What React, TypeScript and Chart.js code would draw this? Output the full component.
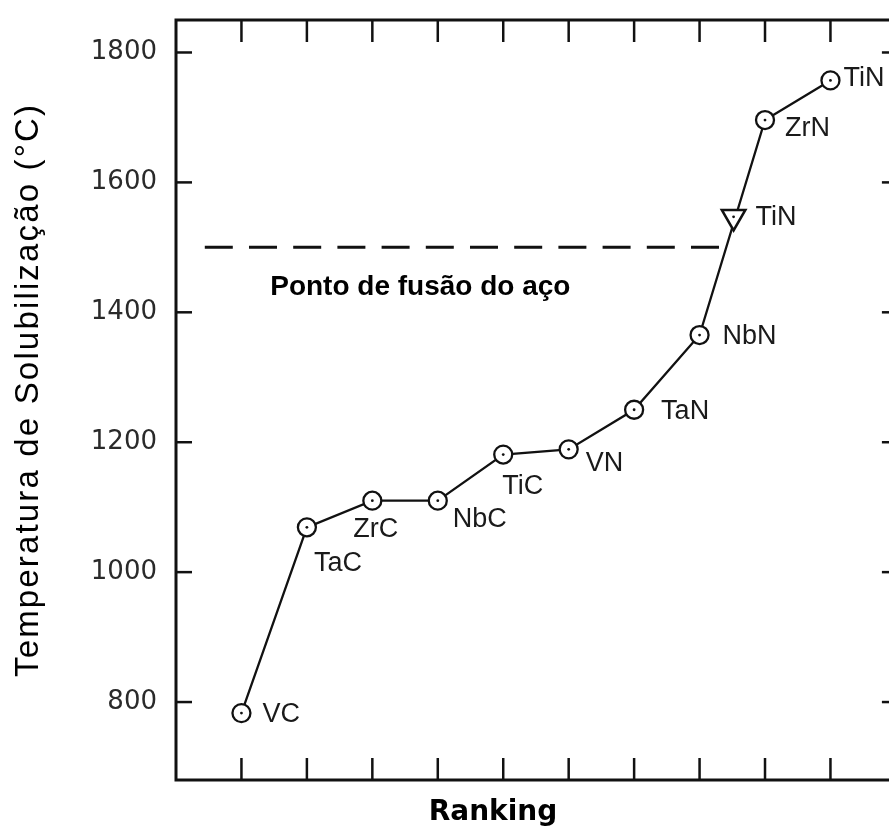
import React, { useEffect, useRef } from "react";
import { Chart, registerables } from "chart.js";

Chart.register(...registerables);

// ---- data ----
const CATEGORIES = ["VC", "TaC", "ZrC", "NbC", "TiC", "VN", "TaN", "NbN", "ZrN", "TiN"];
const RANKS = [1, 2, 3, 4, 5, 6, 7, 8, 9, 10];
const TEMPS = [783, 1069, 1110, 1110, 1181, 1189, 1250, 1365, 1696, 1757];
const TRI_LABELS = ["TiN"];
const TRI_RANKS = [8.52];
const TRI_TEMPS = [1547];
const MELT_TEMP = 1500;
const MELT_RANGE = [0.44, 8.32];
const MELT_LABEL = "Ponto de fusão do aço";
const Y_TICKS = [800, 1000, 1200, 1400, 1600, 1800];
const X_TICKS = [1, 2, 3, 4, 5, 6, 7, 8, 9, 10];
const Y_TITLE = "Temperatura de Solubilização (°C)";
const X_TITLE = "Ranking";

// ---- style (label offsets in px) ----
const LABEL_OFFSETS: [number, number][] = [
  [21, 1], [7, 36], [-19, 29], [15, 19], [-1, 32], [17, 14], [27, 2], [23, 2], [20, 9], [13, -2],
];
const TRI_LABEL_OFFSETS: [number, number][] = [[22, 1]];

const INK = "#111";

const decoPlugin = {
  id: "deco",
  afterDraw(chart: any) {
    const { ctx, chartArea, scales } = chart;
    const { left, right, top, bottom } = chartArea;
    const xs = scales.x;
    const ys = scales.y;
    ctx.save();
    ctx.strokeStyle = INK;
    ctx.lineCap = "butt";
    // frame
    ctx.lineWidth = 3;
    ctx.strokeRect(left, top, right - left, bottom - top);
    // inward ticks
    ctx.lineWidth = 2.5;
    const seg = (a: number, b: number, c: number, d: number) => {
      ctx.beginPath();
      ctx.moveTo(a, b);
      ctx.lineTo(c, d);
      ctx.stroke();
    };
    X_TICKS.forEach((v) => {
      const px = xs.getPixelForValue(v);
      seg(px, top, px, top + 22);
      seg(px, bottom, px, bottom - 22);
    });
    Y_TICKS.forEach((v) => {
      const py = ys.getPixelForValue(v);
      seg(left, py, left + 16, py);
      seg(right, py, right - 14, py);
    });

    // center dots
    ctx.fillStyle = INK;
    const mainMeta = chart.getDatasetMeta(1);
    const triMeta = chart.getDatasetMeta(2);
    [...mainMeta.data, ...triMeta.data].forEach((el: any) => {
      ctx.beginPath();
      ctx.arc(el.x, el.y, 1.4, 0, Math.PI * 2);
      ctx.fill();
    });

    // point labels
    ctx.fillStyle = "#1a1a1a";
    ctx.font = '27px "Liberation Sans", Arial, sans-serif';
    ctx.textAlign = "left";
    ctx.textBaseline = "middle";
    mainMeta.data.forEach((el: any, i: number) => {
      const [dx, dy] = LABEL_OFFSETS[i];
      ctx.fillText(CATEGORIES[i], el.x + dx, el.y + dy);
    });
    triMeta.data.forEach((el: any, i: number) => {
      const [dx, dy] = TRI_LABEL_OFFSETS[i];
      ctx.fillText(TRI_LABELS[i], el.x + dx, el.y + dy);
    });

    // melting point label
    ctx.fillStyle = "#000";
    ctx.font = 'bold 28px "Liberation Sans", Arial, sans-serif';
    ctx.textBaseline = "alphabetic";
    ctx.fillText(MELT_LABEL, xs.getPixelForValue(1.44), ys.getPixelForValue(MELT_TEMP) + 48);

    // x title
    ctx.font = 'bold 28px "DejaVu Sans", sans-serif';
    ctx.textAlign = "center";
    ctx.fillText(X_TITLE, 493, 820);

    // y title
    ctx.font = '33px "Liberation Sans", Arial, sans-serif';
    const w = ctx.measureText(Y_TITLE).width;
    const target = 572;
    const n = Array.from(Y_TITLE).length;
    const sp = Math.max(0, (target - w) / (n - 1));
    (ctx as any).letterSpacing = sp.toFixed(2) + "px";
    ctx.translate(38, 391);
    ctx.rotate(-Math.PI / 2);
    ctx.textAlign = "left";
    ctx.fillStyle = "#000";
    ctx.fillText(Y_TITLE, -target / 2, 0);
    ctx.restore();
  },
};

export default function App() {
  const ref = useRef<HTMLCanvasElement | null>(null);
  useEffect(() => {
    if (!ref.current) return;
    const chart = new Chart(ref.current, {
      type: "scatter",
      data: {
        datasets: [
          {
            label: "melt",
            data: MELT_RANGE.map((x) => ({ x, y: MELT_TEMP })),
            showLine: true,
            borderColor: INK,
            borderWidth: 3,
            borderDash: [28, 16.2],
            pointRadius: 0,
            order: 3,
          },
          {
            label: "main",
            data: RANKS.map((x, i) => ({ x, y: TEMPS[i] })),
            showLine: true,
            borderColor: INK,
            borderWidth: 2.3,
            pointRadius: 9,
            pointBorderWidth: 2.3,
            pointBorderColor: INK,
            pointBackgroundColor: "#fff",
            order: 2,
          },
          {
            label: "tri",
            data: TRI_RANKS.map((x, i) => ({ x, y: TRI_TEMPS[i] })),
            showLine: false,
            pointStyle: "triangle",
            rotation: 180,
            pointRadius: 13.5,
            pointBorderWidth: 2.6,
            pointBorderColor: INK,
            pointBackgroundColor: "#fff",
            order: 1,
          } as any,
        ],
      },
      options: {
        responsive: false,
        animation: false,
        layout: { padding: { top: 20, right: 10, left: 0, bottom: 0 } },
        plugins: { legend: { display: false }, tooltip: { enabled: false } },
        scales: {
          x: {
            type: "linear",
            min: 0,
            max: 11,
            afterBuildTicks: (s: any) => {
              s.ticks = X_TICKS.map((value) => ({ value }));
            },
            afterFit: (s: any) => {
              s.height = 47;
              s.paddingLeft = 0;
              s.paddingRight = 0;
              s.paddingTop = 0;
              s.paddingBottom = 0;
            },
            ticks: { display: false },
            grid: { display: false, drawTicks: false },
            border: { display: false },
          },
          y: {
            type: "linear",
            min: 680,
            max: 1850,
            afterBuildTicks: (s: any) => {
              s.ticks = Y_TICKS.map((value) => ({ value }));
            },
            afterFit: (s: any) => {
              s.width = 176;
              s.paddingLeft = 0;
              s.paddingRight = 0;
              s.paddingTop = 0;
              s.paddingBottom = 0;
            },
            ticks: {
              color: "#2a2a2a",
              padding: 19,
              font: { family: '"DejaVu Sans", sans-serif', size: 26 },
              callback: (v: any) => String(v),
            },
            grid: { display: false, drawTicks: false },
            border: { display: false },
          },
        },
      },
      plugins: [decoPlugin],
    });
    return () => chart.destroy();
  }, []);

  return (
    <div
      style={{
        position: "absolute",
        left: 0,
        top: 0,
        width: 889,
        height: 827,
        overflow: "hidden",
        background: "#fff",
      }}
    >
      <canvas ref={ref} width={912} height={827} style={{ display: "block" }} />
    </div>
  );
}
